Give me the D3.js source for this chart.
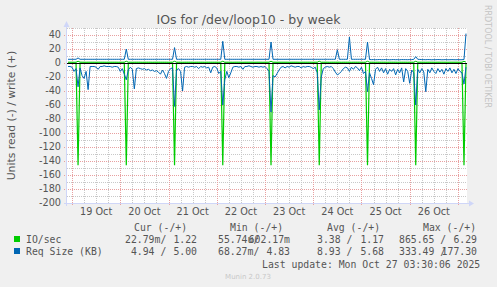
<!DOCTYPE html>
<html>
<head>
<meta charset="utf-8">
<script src="https://cdn.jsdelivr.net/npm/d3@7/dist/d3.min.js"></script>
<style>
  body { margin: 0; background: #f0f0f0; }
  svg { display: block; }
  text { white-space: pre; }
</style>
</head>
<body>
<script>
var width = 497,
  height = 287;

// hourly samples, first one at 2025-10-18 22:00
var firstSample = "2025-10-18 22:00";

// IO/sec read (drawn below zero), one row per day
var ioRead = [
  0,0,0,0,0,146,0,0,0,0,0,0,0,0,0,0,0,0,0,0,0,0,0,0,
  0,0,0,0,0,146,0,0,0,0,0,0,0,0,0,0,0,0,0,0,0,0,0,0,
  0,0,0,0,0,146,0,0,0,0,0,0,0,0,0,0,0,0,0,0,0,0,0,0,
  0,0,0,0,0,146,0,0,0,0,0,0,0,0,0,0,0,0,0,0,0,0,0,0,
  0,0,0,0,0,146,0,0,0,0,0,0,0,0,0,0,0,0,0,0,0,0,0,0,
  0,0,0,0,0,146,0,0,0,0,0,0,0,0,0,0,0,0,0,0,0,0,0,0,
  0,0,0,0,0,146,0,0,0,0,0,0,0,0,0,0,0,0,0,0,0,0,0,0,
  0,0,0,0,0,146,0,0,0,0,0,0,0,0,0,0,0,0,0,0,0,0,0,0,
  0,0,0,0,0,146,0
];

// IO/sec write (drawn above zero)
var ioWrite = [
  1.2,1.2,1.2,1.1,1.2,2.5,1.3,1.2,1.2,1.1,1.2,1.2,1.2,1.2,1.1,1.2,1.2,1.2,1.2,1.1,1.2,1.2,1.2,1.2,
  1.2,1.1,1.2,1.2,1.2,2.5,1.2,1.2,1.1,1.2,1.2,1.2,1.2,1.1,1.2,1.2,1.2,1.2,1.1,1.2,1.2,1.2,1.2,1.2,
  1.2,1.2,1.1,1.2,1.2,2.5,1.2,1.2,1.2,1.1,1.2,1.2,1.2,1.2,1.2,1.1,1.2,1.2,1.2,1.2,1.1,1.2,1.2,1.2,
  1.2,1.2,1.2,1.1,1.2,2.5,1.2,1.2,1.2,1.2,1.1,1.2,1.2,1.2,1.2,1.1,1.2,1.2,1.2,1.2,1.2,1.1,1.2,1.2,
  1.2,1.1,1.2,1.2,1.2,2.5,1.2,1.2,1.1,1.2,1.2,1.2,1.2,1.2,1.1,1.2,1.2,1.2,1.2,1.1,1.2,1.2,1.2,1.2,
  1.2,1.2,1.1,1.2,1.2,2.5,1.2,1.2,1.2,1.2,1.1,1.2,1.2,1.2,1.2,1.2,1.1,1.2,1.2,1.2,1.2,1.1,1.2,1.2,
  1.2,1.2,1.2,1.1,1.2,2.5,1.2,1.2,1.2,1.1,1.2,1.2,1.2,1.2,1.2,1.1,1.2,1.2,1.2,1.2,1.1,1.2,1.2,1.2,
  1.2,1.1,1.2,1.2,1.2,2.5,1.2,1.2,1.2,1.2,1.1,1.2,1.2,1.2,1.2,1.1,1.2,1.2,1.2,1.2,1.2,1.1,1.2,1.2,
  1.2,1.2,1.2,1.1,1.2,2.5,1.2
];

// Req Size (KB) read (drawn below zero)
var reqRead = [
  5,5,6,12,8,34,7,18,22,12,38,5,5,5,6,9,5,5,4,5,5,5,6,5,
  5,6,12,8,16,24,10,6,9,37,8,7,8,9,8,10,9,11,10,12,11,13,16,10,
  15,22,12,8,7,62,10,8,12,40,6,5,6,5,5,6,5,8,5,6,5,7,6,14,
  6,5,7,15,12,60,24,12,21,14,6,5,5,6,5,9,5,5,4,5,6,5,5,6,
  5,6,5,8,12,70,18,20,15,10,6,5,7,5,6,4,5,6,5,5,7,5,6,5,
  5,6,8,6,14,67,20,8,6,5,6,5,8,13,17,15,12,8,6,7,12,6,9,5,
  7,11,6,15,12,41,14,22,31,9,6,12,7,14,8,16,9,12,8,17,9,14,7,27,
  8,12,29,10,14,60,9,14,8,13,41,9,14,7,12,15,8,13,9,16,8,12,7,14,
  9,15,8,12,14,30,6
];

// Req Size (KB) write (drawn above zero)
var reqWrite = [
  5.3,5.3,5.3,5.3,5.3,7.2,5.3,5.3,5.3,5.3,5.3,5.3,5.3,5.3,5.3,5.3,5.3,5.3,5.3,5.3,5.3,5.3,5.3,5.3,
  5.3,5.3,5.3,5.3,5.3,20,5.3,5.3,5.3,5.3,5.3,5.3,5.3,5.3,5.3,5.3,5.3,5.3,5.3,5.3,5.3,5.3,5.3,5.3,
  5.3,5.3,5.3,5.3,5.3,22,5.3,5.3,5.3,5.3,5.3,5.3,5.3,5.3,5.3,5.3,5.3,5.3,5.3,5.3,5.3,5.3,5.3,5.3,
  5.3,5.3,5.3,5.3,5.3,31,5.3,5.3,5.3,5.3,5.3,5.3,5.3,5.3,5.3,5.3,5.3,5.3,5.3,5.3,5.3,5.3,5.3,5.3,
  5.3,5.3,5.3,5.3,5.3,30,5.3,5.3,5.3,5.3,5.3,5.3,5.3,5.3,5.3,5.3,5.3,5.3,5.3,5.3,5.3,5.3,5.3,5.3,
  5.3,5.3,5.3,5.3,5.3,5.3,5.3,5.3,5.3,5.3,5.3,5.3,5.3,5.3,19,5.3,5.3,5.3,5.3,5.3,37,5.3,5.3,5.3,
  5.3,5.3,5.3,5.3,5.3,30,5.0,4.8,4.9,4.7,4.8,5.0,4.7,4.8,4.9,4.8,4.6,4.8,4.9,4.7,4.8,4.6,4.9,4.8,
  4.8,4.7,4.9,4.8,5.2,9,5.3,5.1,4.9,4.8,4.7,4.9,4.8,4.6,4.8,4.7,4.9,4.8,4.6,4.7,4.8,4.6,4.7,4.8,
  4.7,4.6,4.8,4.6,4.7,4.9,42
];

var yTicks = [40, 20, 0, -20, -40, -60, -80, -100, -120, -140, -160, -180, -200];
var dayLabels = ["19 Oct", "20 Oct", "21 Oct", "22 Oct", "23 Oct", "24 Oct", "25 Oct", "26 Oct"];
var dayLabelTimes = [
  "2025-10-19 12:00", "2025-10-20 12:00", "2025-10-21 12:00", "2025-10-22 12:00",
  "2025-10-23 12:00", "2025-10-24 12:00", "2025-10-25 12:00", "2025-10-26 12:00"
];

var seriesNames = ["IO/sec", "Req Size (KB)"];
var seriesColors = ["#00cc00", "#0066b3"];
var legendHeaders = ["Cur (-/+)", "Min (-/+)", "Avg (-/+)", "Max (-/+)"];
// [negative part, positive part] per column, per series
var legendCur = [["22.79m/", "1.22"], [" 4.94 /", "5.00"]];
var legendMin = [["55.74u/", "602.17m"], ["68.27m/", "4.83"]];
var legendAvg = [["3.38 /", "1.17"], ["8.93 /", "5.68"]];
var legendMax = [["865.65 /", "6.29"], ["333.49 /", "177.30"]];
var lastUpdate = "Last update: Mon Oct 27 03:30:06 2025";

var parseTime = d3.timeParse("%Y-%m-%d %H:%M");
var t0 = parseTime(firstSample);

var plotLeft = 67,
  plotRight = 467,
  plotTop = 28,
  plotBottom = 203;

var x = d3
  .scaleTime()
  .domain([parseTime("2025-10-18 21:30"), parseTime("2025-10-27 04:30")])
  .range([plotLeft, plotRight]);

var y = d3.scaleLinear().domain([-200, 50]).range([plotBottom, plotTop]);

var svg = d3
  .select("body")
  .append("svg")
  .attr("width", width)
  .attr("height", height)
  .style("font-family", "'DejaVu Sans', sans-serif");

svg.append("rect").attr("width", width).attr("height", height).attr("fill", "#f0f0f0");

// canvas
svg
  .append("rect")
  .attr("x", plotLeft)
  .attr("y", plotTop)
  .attr("width", plotRight - plotLeft)
  .attr("height", plotBottom - plotTop)
  .attr("fill", "#ffffff");

var grid = svg.append("g").attr("shape-rendering", "crispEdges");

// minor grid: every 10 units / every 6 hours
grid
  .selectAll("line.hmin")
  .data(d3.range(-190, 51, 20))
  .enter()
  .append("line")
  .attr("x1", plotLeft)
  .attr("x2", plotRight)
  .attr("y1", (d) => Math.round(y(d)) + 0.5)
  .attr("y2", (d) => Math.round(y(d)) + 0.5)
  .attr("stroke", "#c8c8c8")
  .attr("stroke-dasharray", "1,1");

grid
  .selectAll("line.vmin")
  .data(x.ticks(d3.timeHour.every(6)).filter((d) => d.getHours() != 0))
  .enter()
  .append("line")
  .attr("x1", (d) => Math.round(x(d)) + 0.5)
  .attr("x2", (d) => Math.round(x(d)) + 0.5)
  .attr("y1", plotTop)
  .attr("y2", plotBottom)
  .attr("stroke", "#c8c8c8")
  .attr("stroke-dasharray", "1,1");

// major grid
grid
  .selectAll("line.hmaj")
  .data(yTicks)
  .enter()
  .append("line")
  .attr("x1", plotLeft - 3)
  .attr("x2", plotRight)
  .attr("y1", (d) => Math.round(y(d)) + 0.5)
  .attr("y2", (d) => Math.round(y(d)) + 0.5)
  .attr("stroke", "#e8a0a0")
  .attr("stroke-dasharray", "1,1");

grid
  .selectAll("line.vmaj")
  .data(x.ticks(d3.timeDay.every(1)))
  .enter()
  .append("line")
  .attr("x1", (d) => Math.round(x(d)) + 0.5)
  .attr("x2", (d) => Math.round(x(d)) + 0.5)
  .attr("y1", plotTop)
  .attr("y2", plotBottom + 3)
  .attr("stroke", "#e8a0a0")
  .attr("stroke-dasharray", "1,1");

// series
function timeOf(i) {
  return d3.timeHour.offset(t0, i);
}

var line = d3
  .line()
  .x(function (d, i) {
    return x(timeOf(i));
  })
  .y(function (d) {
    return y(d);
  });

var plot = svg.append("g");

plot
  .append("path")
  .attr("d", line(ioRead.map((v) => -v)))
  .attr("fill", "none")
  .attr("stroke", seriesColors[0])
  .attr("stroke-width", 1.2);

plot
  .append("path")
  .attr("d", line(ioWrite))
  .attr("fill", "none")
  .attr("stroke", seriesColors[0])
  .attr("stroke-width", 1);

plot
  .append("line")
  .attr("x1", plotLeft)
  .attr("x2", plotRight)
  .attr("y1", y(0) + 0.5)
  .attr("y2", y(0) + 0.5)
  .attr("stroke", "#000000")
  .attr("stroke-width", 1);

plot
  .append("path")
  .attr("d", line(reqRead.map((v) => -v)))
  .attr("fill", "none")
  .attr("stroke", seriesColors[1])
  .attr("stroke-width", 1);

plot
  .append("path")
  .attr("d", line(reqWrite))
  .attr("fill", "none")
  .attr("stroke", seriesColors[1])
  .attr("stroke-width", 1);

// axes with arrows
var axisColor = "#cfd6f8";
svg
  .append("line")
  .attr("x1", plotLeft - 0.5)
  .attr("x2", plotLeft - 0.5)
  .attr("y1", plotBottom + 3)
  .attr("y2", plotTop - 4)
  .attr("stroke", axisColor);
svg
  .append("line")
  .attr("x1", plotLeft - 3)
  .attr("x2", plotRight + 3)
  .attr("y1", plotBottom + 0.5)
  .attr("y2", plotBottom + 0.5)
  .attr("stroke", axisColor);
svg
  .append("path")
  .attr("d", "M" + (plotLeft - 3.5) + "," + (plotTop - 1) + "L" + (plotLeft + 2.5) + "," + (plotTop - 1) + "L" + (plotLeft - 0.5) + "," + (plotTop - 7) + "Z")
  .attr("fill", axisColor);
svg
  .append("path")
  .attr("d", "M" + (plotRight + 2) + "," + (plotBottom - 2.5) + "L" + (plotRight + 2) + "," + (plotBottom + 3.5) + "L" + (plotRight + 7) + "," + (plotBottom + 0.5) + "Z")
  .attr("fill", axisColor);

// tick labels
svg
  .selectAll("text.ytick")
  .data(yTicks)
  .enter()
  .append("text")
  .attr("x", 61)
  .attr("y", (d) => y(d))
  .attr("dy", "0.36em")
  .attr("text-anchor", "end")
  .attr("font-size", "9.7px")
  .attr("fill", "#555")
  .text((d) => d);

svg
  .selectAll("text.xtick")
  .data(dayLabels)
  .enter()
  .append("text")
  .attr("x", (d, i) => x(parseTime(dayLabelTimes[i])))
  .attr("y", 215)
  .attr("text-anchor", "middle")
  .attr("font-size", "9.7px")
  .attr("fill", "#555")
  .text((d) => d);

// titles
svg
  .append("text")
  .attr("x", 248.5)
  .attr("y", 24)
  .attr("text-anchor", "middle")
  .attr("font-size", "12.5px")
  .attr("fill", "#555")
  .text("IOs for /dev/loop10 - by week");

svg
  .append("text")
  .attr("transform", "translate(15," + (plotTop + plotBottom) / 2 + ") rotate(-90)")
  .attr("text-anchor", "middle")
  .attr("font-size", "10.8px")
  .attr("fill", "#555")
  .text("Units read (-) / write (+)");

svg
  .append("text")
  .attr("transform", "translate(485,5) rotate(90)")
  .attr("font-size", "8px")
  .attr("fill", "#c4c4c4")
  .text("RRDTOOL / TOBI OETIKER");

// legend
var legend = svg
  .append("g")
  .style("font-family", "'DejaVu Sans Mono', monospace")
  .attr("font-size", "9.8px")
  .attr("fill", "#555");

var colStart = [125, 218, 317, 399],
  colEnd = [197, 290, 384, 477],
  headStart = [134, 230, 327, 423];

legend
  .selectAll("text.head")
  .data(legendHeaders)
  .enter()
  .append("text")
  .attr("x", (d, i) => headStart[i])
  .attr("y", 231)
  .text((d) => d);

var columns = [legendCur, legendMin, legendAvg, legendMax];

seriesNames.forEach(function (name, r) {
  var yy = 243 + r * 12;
  legend
    .append("rect")
    .attr("x", 14)
    .attr("y", yy - 7)
    .attr("width", 6)
    .attr("height", 6)
    .attr("fill", seriesColors[r]);
  legend.append("text").attr("x", 26).attr("y", yy).text(name);
  columns.forEach(function (col, c) {
    legend.append("text").attr("x", colStart[c]).attr("y", yy).text(col[r][0]);
    legend
      .append("text")
      .attr("x", colEnd[c])
      .attr("y", yy)
      .attr("text-anchor", "end")
      .text(col[r][1]);
  });
});

legend.append("text").attr("x", 262).attr("y", 267.5).text(lastUpdate);

svg
  .append("text")
  .attr("x", 248)
  .attr("y", 279)
  .attr("text-anchor", "middle")
  .attr("font-size", "7px")
  .attr("fill", "#c8c8c8")
  .text("Munin 2.0.73");
</script>
</body>
</html>
